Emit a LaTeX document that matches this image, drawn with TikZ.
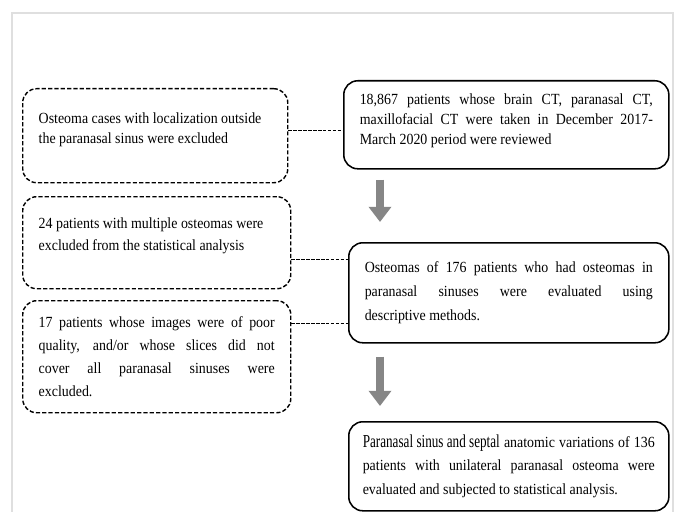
\documentclass[tikz,border=0pt]{standalone}
\usepackage{fontspec}
\setmainfont[FakeStretch=0.9]{Liberation Serif}
\newcommand\liftby[1]{\par\kern#1\hrule height 0pt}
\usetikzlibrary{arrows.meta,calc}
\begin{document}
\begin{tikzpicture}[x=0.025cm,y=-0.025cm,font=\fontsize{11}{15}\selectfont,
		excl/.style={draw,line width=1pt,dash pattern=on 3pt off 1.5pt,rounded corners=0.35cm,align=justify,inner xsep=0.4cm,anchor=north west},
		stage/.style={draw,line width=1.1pt,rounded corners=0.35cm,align=justify,inner xsep=0.4cm,anchor=north west},
		link/.style={line width=0.7pt,dash pattern=on 2.5pt off 1pt},
		bigarrow/.style={draw=gray!95,line width=0.22cm,-{Triangle[width=0.55cm,length=0.38cm]}}]
	\useasboundingbox (0,0) rectangle (685,512);
	\draw[gray!25,line width=1.5pt] (12,512)--(12,13)--(673,13)--(673,512);
	\node[excl,text width=5.825cm,minimum height=2.35cm,font=\fontsize{11}{14.3}\selectfont] (A) at (22,88) {Osteoma cases with localization outside\newline the paranasal sinus were excluded\liftby{0.3cm}};
	\node[stage,text width=7.325cm,minimum height=2.2cm,font=\fontsize{11}{14.5}\selectfont] (B) at (343,80) {18,867 patients whose brain CT, paranasal CT,\linebreak maxillofacial CT were taken in December 2017-\linebreak March 2020 period were reviewed\liftby{0.2cm}};
	\node[excl,text width=5.9cm,minimum height=2.3cm,font=\fontsize{11}{15.5}\selectfont] (C) at (22,196) {24 patients with multiple osteomas were\newline excluded from the statistical analysis\liftby{0.35cm}};
	\node[stage,text width=7.2cm,minimum height=2.5cm,font=\fontsize{11}{17}\selectfont] (D) at (348,242) {Osteomas of 176 patients who had osteomas in\linebreak paranasal sinuses were evaluated using\linebreak descriptive methods.};
	\node[excl,text width=5.9cm,minimum height=2.8cm,font=\fontsize{11}{16.5}\selectfont] (E) at (22,300) {17 patients whose images were of poor\linebreak quality, and/or whose slices did not\linebreak cover all paranasal sinuses were\linebreak excluded.};
	\node[stage,text width=7.3cm,inner xsep=0.35cm,minimum height=2.225cm,font=\fontsize{11}{16.5}\selectfont] (F) at (348,421) {\makebox[\linewidth][s]{\scalebox{0.8}[1]{\fontsize{13}{16.5}\selectfont Paranasal sinus and septal} anatomic variations of 136}\newline patients with unilateral paranasal osteoma were\linebreak evaluated and subjected to statistical analysis.};
	\draw[link] (A.east |- 0,130)--(B.west |- 0,130);
	\draw[link] (C.east |- 0,259)--(D.west |- 0,259);
	\draw[link] (E.east |- 0,323)--(D.west |- 0,323);
	\draw[bigarrow] ($(B.south west)+(37,10)$)--($(D.north west)+(32,-20)$);
	\draw[bigarrow] ($(D.south west)+(32,13)$)--($(F.north west)+(32,-15)$);
\end{tikzpicture}
\end{document}
